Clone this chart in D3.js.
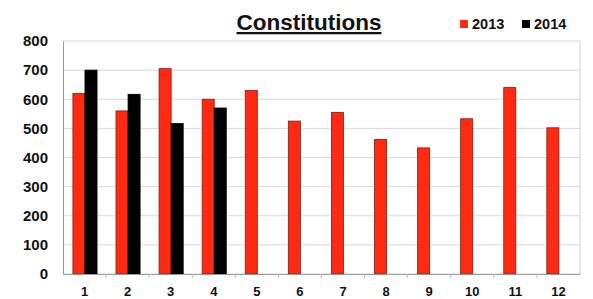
<!DOCTYPE html>
<html>
<head>
<meta charset="utf-8">
<script src="https://cdn.jsdelivr.net/npm/d3@7"></script>
<style>
  body { margin: 0; background: #fff; }
  text { font-family: "Liberation Sans", Arial, sans-serif; font-weight: bold; }
</style>
</head>
<body>
<svg id="chart"></svg>
<script>
/* chart data */
const months = ["1", "2", "3", "4", "5", "6", "7", "8", "9", "10", "11", "12"];
const series = ["2013", "2014"];
const values2013 = [620, 560, 705, 600, 630, 525, 555, 462, 433, 533, 640, 502];
const values2014 = [700, 617, 517, 570, null, null, null, null, null, null, null, null];
const yTicks = [0, 100, 200, 300, 400, 500, 600, 700, 800];
const colors = { "2013": "#ff2a12", "2014": "#000000" };

const width = 593, height = 299;
const margin = { top: 41, right: 13, bottom: 25, left: 63 };

const svg = d3.select('#chart')
  .attr('width', width)
  .attr('height', height);

const x = d3.scaleBand()
  .domain(months)
  .range([margin.left, width - margin.right]);

const x1 = d3.scaleBand()
  .domain(series)
  .range([x.bandwidth() * 0.23, x.bandwidth() * 0.79]);

const y = d3.scaleLinear()
  .domain([0, 800])
  .range([height - margin.bottom, margin.top]);

/* grid */
svg.append('g')
  .selectAll('line')
  .data(yTicks)
  .enter().append('line')
  .attr('x1', margin.left)
  .attr('x2', width - margin.right)
  .attr('y1', d => y(d))
  .attr('y2', d => y(d))
  .attr('stroke', '#d8d8d8')
  .attr('stroke-width', 1);

// right border
svg.append('line')
  .attr('x1', width - margin.right).attr('x2', width - margin.right)
  .attr('y1', y(800)).attr('y2', y(0))
  .attr('stroke', '#cfcfcf');

/* bars */
let rows = months.map((m, i) => ({ month: m, values: [
  { key: "2013", value: values2013[i] },
  { key: "2014", value: values2014[i] }
] }));

let groups = svg.append('g')
  .selectAll('g')
  .data(rows)
  .enter().append('g')
  .attr('transform', d => `translate(${x(d.month)},0)`);

groups.selectAll('rect')
  .data(d => d.values.filter(v => v.value != null))
  .enter().append('rect')
  .attr('x', d => x1(d.key))
  .attr('width', x1.bandwidth())
  .attr('y', d => y(d.value))
  .attr('height', d => y(0) - y(d.value))
  .attr('fill', d => colors[d.key])
  .attr('stroke', d => d.key === "2013" ? '#8a1a10' : '#000')
  .attr('stroke-width', 0.8);

/* axes */
const yAxis = svg.append('g')
  .attr('transform', `translate(${margin.left},0)`)
  .call(d3.axisLeft(y).tickValues(yTicks).tickSize(0).tickPadding(15));
yAxis.select('.domain').attr('stroke', '#9a9a9a');
yAxis.selectAll('text').style('font-size', '15px').attr('fill', '#111');

const xAxis = svg.append('g')
  .attr('transform', `translate(0,${y(0)})`)
  .call(d3.axisBottom(x).tickSize(0).tickPadding(13));
xAxis.select('.domain').attr('stroke', '#9a9a9a');
xAxis.selectAll('text').style('font-size', '13px').attr('fill', '#111');

// small ticks between categories
svg.append('g')
  .selectAll('line')
  .data(months.slice(1))
  .enter().append('line')
  .attr('x1', d => x(d)).attr('x2', d => x(d))
  .attr('y1', y(0)).attr('y2', y(0) + 4)
  .attr('stroke', '#bbb');

/* title */
svg.append('text')
  .attr('x', 309)
  .attr('y', 30)
  .attr('text-anchor', 'middle')
  .style('font-size', '22.5px')
  .style('text-decoration', 'underline')
  .attr('fill', '#111')
  .text('Constitutions');

/* legend */
const legend = svg.append('g')
  .selectAll('g')
  .data(series)
  .enter().append('g')
  .attr('transform', (d, i) => `translate(${460 + i * 62},21)`);

legend.append('rect')
  .attr('width', 8).attr('height', 8)
  .attr('y', -1)
  .attr('fill', d => colors[d]);

legend.append('text')
  .attr('x', 12)
  .attr('y', 8)
  .style('font-size', '14.5px')
  .attr('fill', '#111')
  .text(d => d);
</script>
</body>
</html>
